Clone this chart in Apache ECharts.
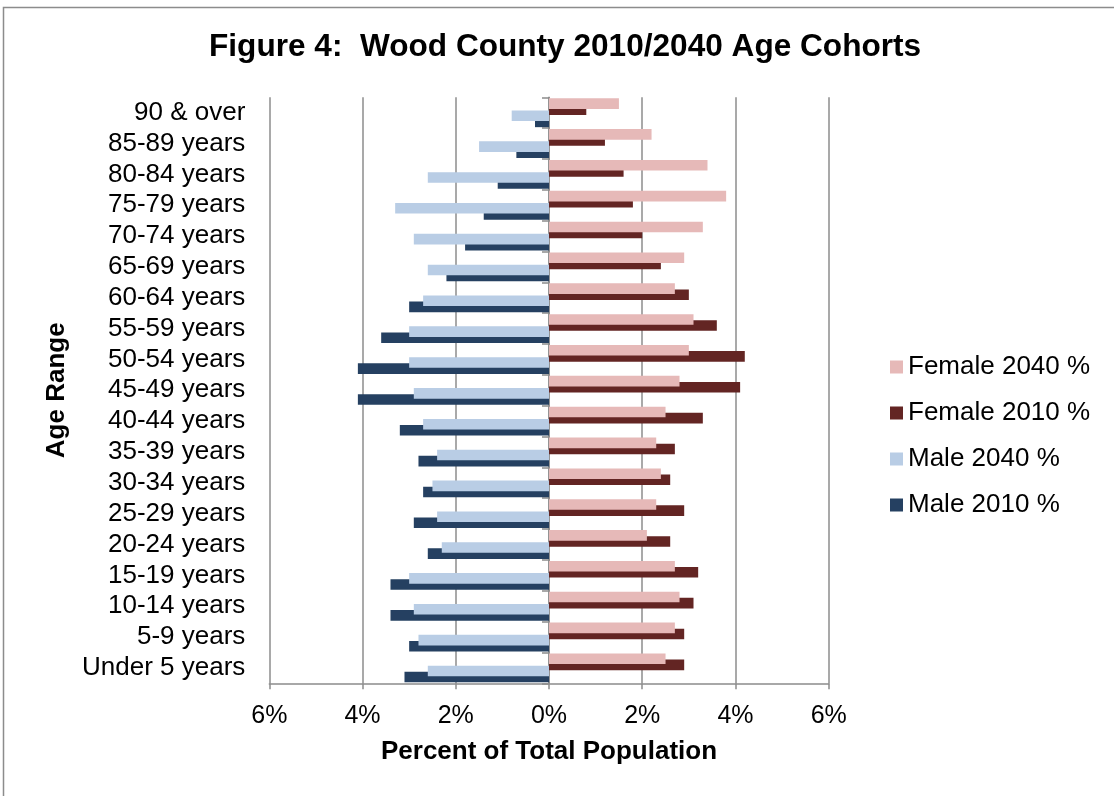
<!DOCTYPE html>
<html>
<head>
<meta charset="utf-8">
<title>Wood County Age Cohorts</title>
<script src="https://cdn.jsdelivr.net/npm/echarts@6/dist/echarts.min.js"></script>
<style>
  html, body { margin: 0; padding: 0; background: #ffffff; }
  #chart { width: 1114px; height: 796px; }
</style>
</head>
<body>
<div id="chart"></div>
<script>
// Age groups, youngest first (drawn bottom to top)
const ageGroups = [
  'Under 5 years', '5-9 years', '10-14 years', '15-19 years', '20-24 years',
  '25-29 years', '30-34 years', '35-39 years', '40-44 years', '45-49 years',
  '50-54 years', '55-59 years', '60-64 years', '65-69 years', '70-74 years',
  '75-79 years', '80-84 years', '85-89 years', '90 & over'
];

// Share of total population, in percent
const female2040 = [2.5, 2.7, 2.8, 2.7, 2.1, 2.3, 2.4, 2.3, 2.5, 2.8, 3.0, 3.1, 2.7, 2.9, 3.3, 3.8, 3.4, 2.2, 1.5];
const female2010 = [2.9, 2.9, 3.1, 3.2, 2.6, 2.9, 2.6, 2.7, 3.3, 4.1, 4.2, 3.6, 3.0, 2.4, 2.0, 1.8, 1.6, 1.2, 0.8];
const male2040   = [2.6, 2.8, 2.9, 3.0, 2.3, 2.4, 2.5, 2.4, 2.7, 2.9, 3.0, 3.0, 2.7, 2.6, 2.9, 3.3, 2.6, 1.5, 0.8];
const male2010   = [3.1, 3.0, 3.4, 3.4, 2.6, 2.9, 2.7, 2.8, 3.2, 4.1, 4.1, 3.6, 3.0, 2.2, 1.8, 1.4, 1.1, 0.7, 0.3];

// Axis ticks (percent)
const xTicks = { min: -6, max: 6, step: 2 };

const FONT = '"Liberation Sans", Arial, Helvetica, sans-serif';
const GRID_GRAY = '#8c8c8c';

const colors = {
  f2040: '#e6b9b8',
  f2010: '#632523',
  m2040: '#b9cde5',
  m2010: '#254061'
};

function barSeries(name, values, color, sign, z) {
  return {
    name: name,
    type: 'bar',
    yAxisIndex: 0,
    barWidth: 10.6,
    barGap: '-42.5%',
    z: z,
    itemStyle: { color: color },
    emphasis: { disabled: true },
    data: values.map(v => sign * v)
  };
}

const chart = echarts.init(document.getElementById('chart'), null, { renderer: 'canvas' });

chart.setOption({
  animation: false,
  backgroundColor: '#ffffff',
  textStyle: { fontFamily: FONT, color: '#000' },
  title: {
    text: 'Figure 4:  Wood County 2010/2040 Age Cohorts',
    left: 209,
    top: 31,
    padding: 0,
    textStyle: { fontFamily: FONT, fontSize: 31.6, fontWeight: 'bold', color: '#000' }
  },
  legend: {
    orient: 'vertical',
    left: 890,
    top: 354,
    padding: 0,
    itemWidth: 13,
    itemHeight: 13,
    itemGap: 20,
    icon: 'rect',
    selectedMode: false,
    textStyle: { fontFamily: FONT, fontSize: 26, color: '#000' },
    data: ['Female 2040 %', 'Female 2010 %', 'Male 2040 %', 'Male 2010 %']
  },
  grid: {
    left: 269.3,
    right: 285.3,
    top: 97.3,
    bottom: 112.7,
    containLabel: false
  },
  xAxis: {
    type: 'value',
    min: xTicks.min,
    max: xTicks.max,
    interval: xTicks.step,
    name: 'Percent of Total Population',
    nameLocation: 'middle',
    nameGap: 56,
    nameTextStyle: { fontFamily: FONT, fontSize: 26, fontWeight: 'bold', color: '#000' },
    axisLine: { show: true, lineStyle: { color: GRID_GRAY, width: 1.5 } },
    axisTick: { show: true, length: 6, lineStyle: { color: GRID_GRAY, width: 1.5 } },
    axisLabel: {
      margin: 20,
      fontFamily: FONT,
      fontSize: 25,
      color: '#000',
      formatter: v => Math.abs(v) + '%'
    },
    splitLine: { show: true, lineStyle: { color: GRID_GRAY, width: 1.5 } }
  },
  yAxis: [
    {
      // Category axis running along the 0% line
      type: 'category',
      data: ageGroups,
      position: 'left',
      axisLine: { show: true, onZero: true, lineStyle: { color: GRID_GRAY, width: 1.5 } },
      axisTick: { show: true, interval: 0, length: 7, inside: false, lineStyle: { color: GRID_GRAY, width: 1.5 } },
      axisLabel: { show: false },
      splitLine: { show: false }
    },
    {
      // Same categories, labelled at the left edge of the plot
      type: 'category',
      data: ageGroups,
      position: 'left',
      axisLine: { show: false, onZero: false },
      axisTick: { show: false },
      axisLabel: { show: true, interval: 0, margin: 24, fontFamily: FONT, fontSize: 26, color: '#000' },
      splitLine: { show: false },
      name: 'Age Range',
      nameLocation: 'middle',
      nameGap: 199,
      nameRotate: 90,
      nameTextStyle: { fontFamily: FONT, fontSize: 26, fontWeight: 'bold', color: '#000' }
    }
  ],
  series: [
    barSeries('Female 2040 %', female2040, colors.f2040, 1, 3),
    barSeries('Female 2010 %', female2010, colors.f2010, 1, 2),
    barSeries('Male 2040 %', male2040, colors.m2040, -1, 3),
    barSeries('Male 2010 %', male2010, colors.m2010, -1, 2)
  ],
  graphic: [
    {
      type: 'rect',
      silent: true,
      shape: { x: 3.5, y: 7.5, width: 1120, height: 800 },
      style: { fill: null, stroke: '#8c8c8c', lineWidth: 1.5 }
    }
  ]
});
</script>
</body>
</html>
